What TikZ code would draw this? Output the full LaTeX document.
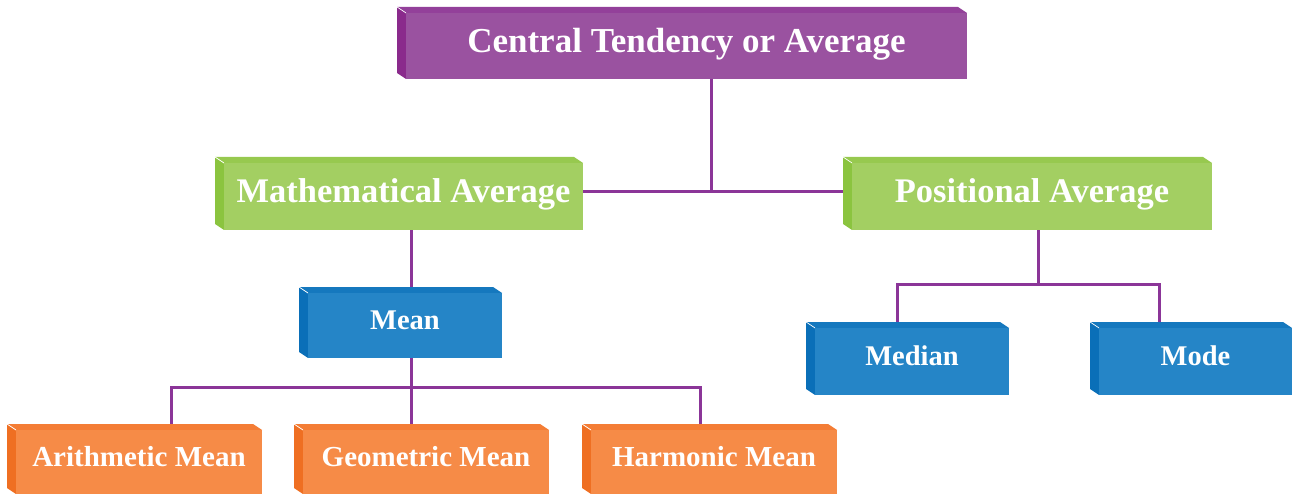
\documentclass[tikz,border=0pt]{standalone}
\usepackage{fontspec}
\setmainfont{Liberation Serif}
\usetikzlibrary{calc}
\pgfdeclarelayer{background}
\pgfsetlayers{background,main}
\definecolor{purF}{HTML}{9A52A0}
\definecolor{purT}{HTML}{93409A}
\definecolor{purS}{HTML}{8A2A8C}
\definecolor{greF}{HTML}{A3CF62}
\definecolor{greT}{HTML}{97C94F}
\definecolor{greS}{HTML}{8BC43F}
\definecolor{bluF}{HTML}{2585C7}
\definecolor{bluT}{HTML}{1578BE}
\definecolor{bluS}{HTML}{0A6FB8}
\definecolor{oraF}{HTML}{F68B47}
\definecolor{oraT}{HTML}{F47D35}
\definecolor{oraS}{HTML}{EF6F22}
\definecolor{lnC}{HTML}{8B3598}
\tikzset{
  face/.style={inner sep=0pt, outer sep=0pt},
  lbl/.style={inner sep=0pt, text=white, text depth=0pt},
  conn/.style={draw=lnC, line width=3pt},
}
% #1 name, #2 colour prefix, #3 left, #4 top, #5 right, #6 bottom, #7 font size, #8 text
\newcommand\bevbox[8]{%
  \fill[#2T] (#3-9,#4-6) -- (#5-9,#4-6) -- (#5,#4) -- (#3,#4) -- cycle;
  \fill[#2S] (#3-9,#4-6) -- (#3,#4) -- (#3,#6) -- (#3-9,#6-6) -- cycle;
  \draw[white, line width=0.7pt] (#3-9,#4-6) -- (#3,#4);
  \node[face, fill=#2F, minimum width={(#5-#3)*1pt}, minimum height={(#6-#4)*1pt}]
        (#1) at ({(#3+#5)/2},{(#4+#6)/2}) {};
  \node[lbl, text height={#7*0.66pt}, font=\fontsize{#7}{#7}\selectfont\bfseries]
        (#1-t) at ($(#1.center)+(0,-5)$) {#8};
}
\begin{document}
\begin{tikzpicture}[x=1pt,y=-1pt]
\useasboundingbox (0,0) rectangle (1292,494);
\bevbox{central}{pur}{406}{13}{967}{79}{35}{Central Tendency or Average}
\bevbox{math}{gre}{224}{163}{583}{230}{34.5}{Mathematical Average}
\bevbox{pos}{gre}{852}{163}{1212}{230}{34.5}{Positional Average}
\bevbox{mean}{blu}{308}{293}{502}{358}{28.5}{Mean}
\bevbox{median}{blu}{815}{328}{1009}{395}{28.5}{Median}
\bevbox{mode}{blu}{1099}{328}{1292}{395}{28.5}{Mode}
\bevbox{arith}{ora}{16}{430}{262}{494}{29}{Arithmetic Mean}
\bevbox{geom}{ora}{303}{430}{549}{494}{29}{Geometric Mean}
\bevbox{harm}{ora}{591}{430}{837}{494}{29}{Harmonic Mean}
% junctions
\coordinate (j1) at (711,192);
\coordinate (j2) at (411,387);
\coordinate (j3) at (1038,284);
\coordinate (a1) at (171,387);
\coordinate (h1) at (700,387);
\coordinate (m1) at (897,284);
\coordinate (o1) at (1159,284);
\begin{pgfonlayer}{background}
\draw[conn] (central.south -| j1) -- (j1);
\draw[conn] (math.east |- j1) -- (pos.west |- j1);
\draw[conn] (math.south -| j2) -- (mean.north -| j2);
\draw[conn] (mean.south -| j2) -- (geom.north -| j2);
\draw[conn] (arith.north -| a1) -- (a1) -- (h1) -- (harm.north -| h1);
\draw[conn] (pos.south -| j3) -- (j3);
\draw[conn] (median.north -| m1) -- (m1) -- (o1) -- (mode.north -| o1);
\end{pgfonlayer}
\end{tikzpicture}
\end{document}
